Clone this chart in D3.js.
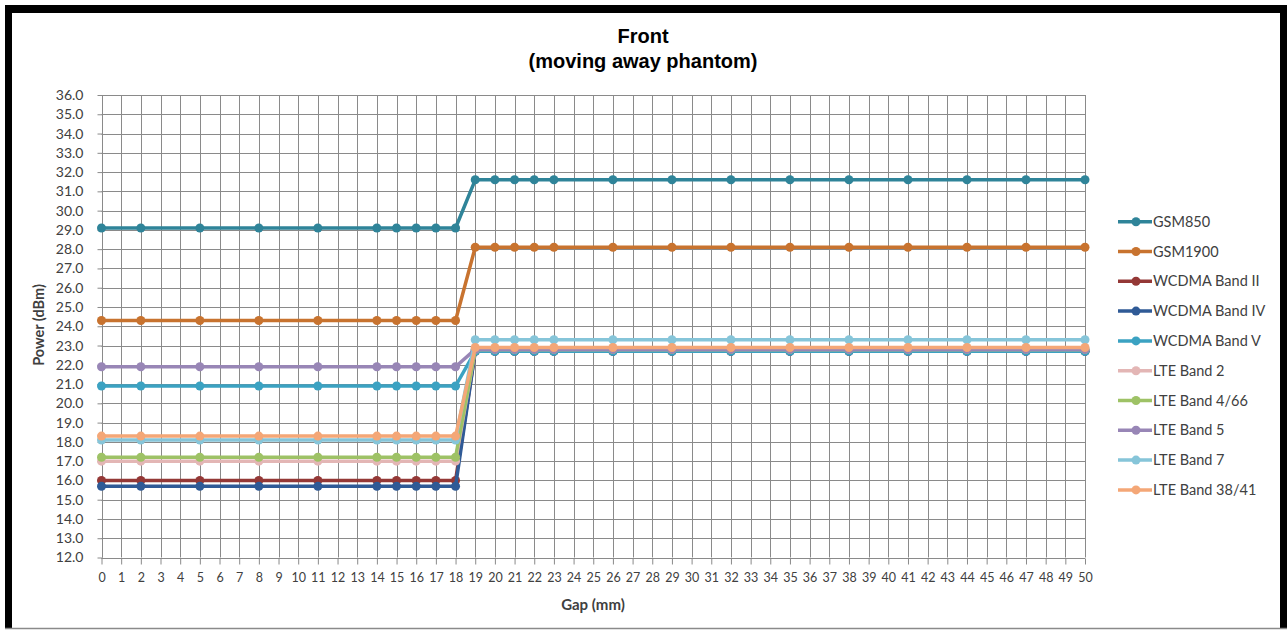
<!DOCTYPE html>
<html>
<head>
<meta charset="utf-8">
<script src="https://d3js.org/d3.v7.min.js"></script>
<style>
  html, body { margin: 0; padding: 0; background: #fff; }
  svg { display: block; }
</style>
</head>
<body>
<svg id="chart" width="1287" height="630"></svg>
<script>
// ---- data ----
const gaps = [0, 2, 5, 8, 11, 14, 15, 16, 17, 18, 19, 20, 21, 22, 23, 26, 29, 32, 35, 38, 41, 44, 47, 50];
const seriesNames = ["GSM850", "GSM1900", "WCDMA Band II", "WCDMA Band IV", "WCDMA Band V",
  "LTE Band 2", "LTE Band 4/66", "LTE Band 5", "LTE Band 7", "LTE Band 38/41"];
const gsm850 =     [29.1,29.1,29.1,29.1,29.1,29.1,29.1,29.1,29.1,29.1, 31.6,31.6,31.6,31.6,31.6,31.6,31.6,31.6,31.6,31.6,31.6,31.6,31.6,31.6];
const gsm1900 =    [24.3,24.3,24.3,24.3,24.3,24.3,24.3,24.3,24.3,24.3, 28.1,28.1,28.1,28.1,28.1,28.1,28.1,28.1,28.1,28.1,28.1,28.1,28.1,28.1];
const wcdmaII =    [16.0,16.0,16.0,16.0,16.0,16.0,16.0,16.0,16.0,16.0, 22.7,22.7,22.7,22.7,22.7,22.7,22.7,22.7,22.7,22.7,22.7,22.7,22.7,22.7];
const wcdmaIV =    [15.7,15.7,15.7,15.7,15.7,15.7,15.7,15.7,15.7,15.7, 22.7,22.7,22.7,22.7,22.7,22.7,22.7,22.7,22.7,22.7,22.7,22.7,22.7,22.7];
const wcdmaV =     [20.9,20.9,20.9,20.9,20.9,20.9,20.9,20.9,20.9,20.9, 22.7,22.7,22.7,22.7,22.7,22.7,22.7,22.7,22.7,22.7,22.7,22.7,22.7,22.7];
const lte2 =       [17.0,17.0,17.0,17.0,17.0,17.0,17.0,17.0,17.0,17.0, 22.8,22.8,22.8,22.8,22.8,22.8,22.8,22.8,22.8,22.8,22.8,22.8,22.8,22.8];
const lte4_66 =    [17.2,17.2,17.2,17.2,17.2,17.2,17.2,17.2,17.2,17.2, 22.8,22.8,22.8,22.8,22.8,22.8,22.8,22.8,22.8,22.8,22.8,22.8,22.8,22.8];
const lte5 =       [21.9,21.9,21.9,21.9,21.9,21.9,21.9,21.9,21.9,21.9, 22.8,22.8,22.8,22.8,22.8,22.8,22.8,22.8,22.8,22.8,22.8,22.8,22.8,22.8];
const lte7 =       [18.1,18.1,18.1,18.1,18.1,18.1,18.1,18.1,18.1,18.1, 23.3,23.3,23.3,23.3,23.3,23.3,23.3,23.3,23.3,23.3,23.3,23.3,23.3,23.3];
const lte38_41 =   [18.3,18.3,18.3,18.3,18.3,18.3,18.3,18.3,18.3,18.3, 22.9,22.9,22.9,22.9,22.9,22.9,22.9,22.9,22.9,22.9,22.9,22.9,22.9,22.9];
const xTicks = d3.range(0, 51);          // 0 .. 50 category labels
const yTicks = d3.range(12, 37);         // 12.0 .. 36.0
const seriesColors = ["#2f8499", "#c8732f", "#943836", "#2f5a96", "#3ba2c2",
  "#e3b6b5", "#9ec266", "#9886b6", "#86c5d9", "#f4a777"];

const allValues = [gsm850, gsm1900, wcdmaII, wcdmaIV, wcdmaV, lte2, lte4_66, lte5, lte7, lte38_41];
const series = seriesNames.map((n, i) => ({
  name: n, color: seriesColors[i],
  points: gaps.map((g, j) => ({ x: g, y: allValues[i][j] }))
}));

// ---- layout ----
const svg = d3.select("#chart");
const X0 = 101.5, X1 = 1085, Y0 = 557.5, Y1 = 95;
const x = d3.scaleLinear().domain([0, 50]).range([X0, X1]);
const y = d3.scaleLinear().domain([12, 36]).range([Y0, Y1]);

// frame
svg.append("rect").attr("x", 5).attr("y", 5).attr("width", 1282).attr("height", 8).attr("fill", "#000");
svg.append("rect").attr("x", 5).attr("y", 5).attr("width", 7).attr("height", 623).attr("fill", "#000");
svg.append("rect").attr("x", 1280).attr("y", 5).attr("width", 7).attr("height", 623).attr("fill", "#000");
svg.append("line").attr("x1", 5).attr("x2", 1287).attr("y1", 628.5).attr("y2", 628.5)
  .attr("stroke", "#8a8a8a").attr("stroke-width", 1.5);

// title
const title = svg.append("text").attr("text-anchor", "middle")
  .attr("font-family", "Liberation Sans, Arial, sans-serif").attr("font-weight", "bold")
  .attr("font-size", 20).attr("fill", "#000");
title.append("tspan").attr("x", 643).attr("y", 43).text("Front");
title.append("tspan").attr("x", 643).attr("y", 68).text("(moving away phantom)");

// grid
const grid = svg.append("g").attr("stroke", "#8a8a8a").attr("stroke-width", 1);
grid.selectAll("line.v").data(xTicks).enter().append("line")
  .attr("x1", d => Math.round(x(d)) + 0.5).attr("x2", d => Math.round(x(d)) + 0.5)
  .attr("y1", Y1).attr("y2", Y0);
grid.selectAll("line.h").data(yTicks).enter().append("line")
  .attr("y1", d => Math.round(y(d)) + 0.5).attr("y2", d => Math.round(y(d)) + 0.5)
  .attr("x1", X0).attr("x2", X1);

// axes
const fontTick = "Lato, Carlito, Calibri, sans-serif";
const xAxis = d3.axisBottom(x).tickValues(xTicks).tickSize(6).tickPadding(9).tickFormat(d3.format("d"));
const gx = svg.append("g").attr("transform", `translate(0,${Math.round(Y0) + 0.5})`).call(xAxis);
const yAxis = d3.axisLeft(y).tickValues(yTicks).tickSize(5).tickPadding(14).tickFormat(d3.format(".1f"));
const gy = svg.append("g").attr("transform", `translate(${Math.round(X0) + 0.5},0)`).call(yAxis);
[gx, gy].forEach(g => {
  g.select(".domain").attr("stroke", "#8a8a8a").attr("stroke-width", 1);
  g.selectAll(".tick line").attr("stroke", "#8a8a8a");
  g.selectAll(".tick text").attr("font-family", fontTick).attr("fill", "#404040");
});
gx.selectAll(".tick text").attr("font-size", 12.5);
gy.selectAll(".tick text").attr("font-size", 14);
gx.select(".domain").attr("d", `M${X0},0H${X1}`);
gy.select(".domain").attr("d", `M0,${Y0}V${Y1}`);

// axis titles
svg.append("text").attr("x", 593).attr("y", 610).attr("text-anchor", "middle")
  .attr("font-family", fontTick).attr("font-weight", "bold").attr("font-size", 15).attr("fill", "#404040")
  .text("Gap (mm)");
svg.append("text").attr("transform", "translate(44,325) rotate(-90)").attr("text-anchor", "middle")
  .attr("font-family", fontTick).attr("font-weight", "bold").attr("font-size", 14.5).attr("fill", "#404040")
  .text("Power (dBm)");

// series
const line = d3.line().x(d => x(d.x)).y(d => y(d.y));
const sg = svg.append("g").selectAll("g").data(series).enter().append("g");
sg.append("path").attr("d", d => line(d.points)).attr("fill", "none")
  .attr("stroke", d => d.color).attr("stroke-width", 3.5).attr("stroke-linejoin", "round");
sg.selectAll("circle").data(d => d.points.map(p => ({ ...p, color: d.color }))).enter().append("circle")
  .attr("cx", d => x(d.x)).attr("cy", d => y(d.y)).attr("r", 4.5).attr("fill", d => d.color);

// legend
const legend = svg.append("g").selectAll("g").data(series).enter().append("g")
  .attr("transform", (d, i) => `translate(0,${221.7 + i * 29.8})`);
legend.append("line").attr("x1", 1118).attr("x2", 1152).attr("y1", 0).attr("y2", 0)
  .attr("stroke", d => d.color).attr("stroke-width", 3.5);
legend.append("circle").attr("cx", 1136).attr("cy", 0).attr("r", 4.5).attr("fill", d => d.color);
legend.append("text").attr("x", 1153).attr("y", 0).attr("dy", "0.35em")
  .attr("font-family", fontTick).attr("font-size", 14.5).attr("fill", "#404040")
  .text(d => d.name);
</script>
</body>
</html>
